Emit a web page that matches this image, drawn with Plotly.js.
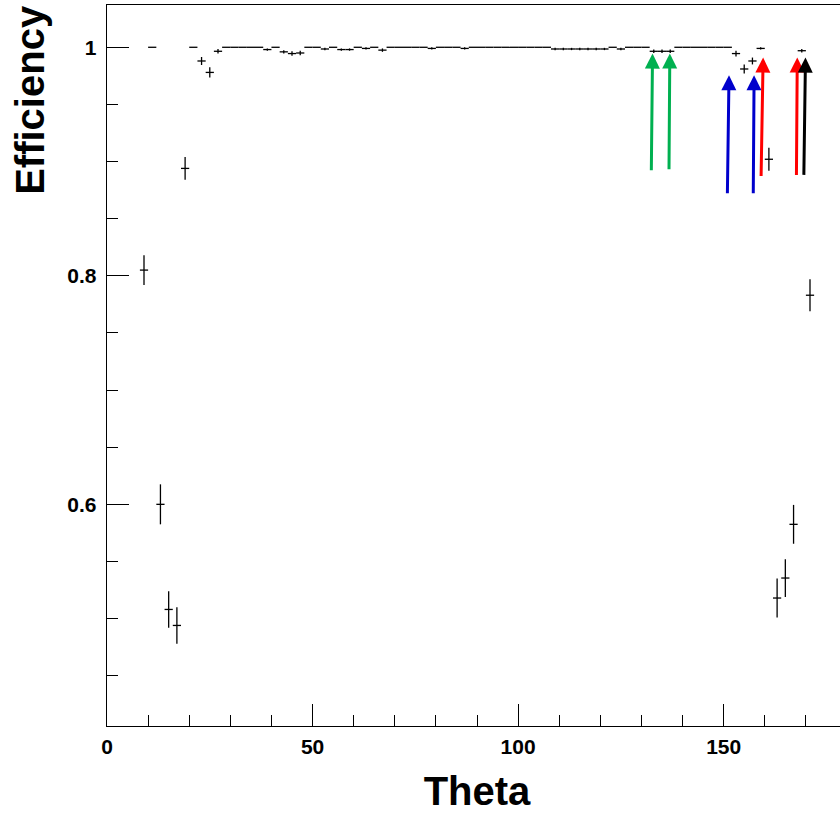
<!DOCTYPE html>
<html>
<head>
<meta charset="utf-8">
<script src="https://cdn.plot.ly/plotly-3.0.1.min.js"></script>
<style>
html, body { margin: 0; padding: 0; overflow: hidden; background: #fff; }
#chart { width: 850px; height: 813px; }
</style>
</head>
<body>
<div id="chart"></div>
<script>
// Bin centres (theta, degrees), bin half-width 1
var theta = [9, 11, 13, 15, 17, 19, 21, 23, 25, 27,
  29, 31, 33, 35, 37, 39, 41, 43, 45, 47,
  49, 51, 53, 55, 57, 59, 61, 63, 65, 67,
  69, 71, 73, 75, 77, 79, 81, 83, 85, 87,
  89, 91, 93, 95, 97, 99, 101, 103, 105, 107,
  109, 111, 113, 115, 117, 119, 121, 123, 125, 127,
  129, 131, 133, 135, 137, 139, 141, 143, 145, 147,
  149, 151, 153, 155, 157, 159, 161, 163, 165, 167,
  169, 171];
var efficiency = [0.805, 1.0, 0.600, 0.508, 0.494, 0.894, 1.0, 0.988, 0.978, 0.9965,
  1.0, 1.0, 1.0, 1.0, 1.0, 0.998, 1.0, 0.996, 0.9945, 0.995,
  1.0, 1.0, 0.9985, 1.0, 0.998, 0.998, 1.0, 0.999, 1.0, 0.9975,
  1.0, 1.0, 1.0, 1.0, 1.0, 0.999, 1.0, 1.0, 1.0, 0.999,
  1.0, 1.0, 1.0, 1.0, 1.0, 1.0, 1.0, 1.0, 1.0, 1.0,
  0.9985, 0.9985, 0.9985, 0.9985, 0.9985, 0.9985, 0.9985, 1.0, 0.9985, 1.0,
  1.0, 1.0, 0.9965, 0.9965, 0.9965, 1.0, 1.0, 1.0, 1.0, 1.0,
  1.0, 1.0, 0.9945, 0.981, 0.988, 0.999, 0.902, 0.518, 0.5355, 0.5825,
  0.997, 0.783];
var effError = [0.013, 0, 0.0175, 0.016, 0.016, 0.010, 0, 0.0035, 0.0045, 0.002,
  0, 0, 0, 0, 0, 0.001, 0, 0.0015, 0.002, 0.002,
  0, 0, 0.001, 0, 0.001, 0.001, 0, 0.001, 0, 0.0015,
  0, 0, 0, 0, 0, 0.001, 0, 0, 0, 0.001,
  0, 0, 0, 0, 0, 0, 0, 0, 0, 0,
  0.001, 0.001, 0.001, 0.001, 0.001, 0.001, 0.001, 0, 0.001, 0,
  0, 0, 0.0015, 0.0015, 0.0015, 0, 0, 0, 0, 0,
  0, 0, 0.0025, 0.004, 0.003, 0.001, 0.010, 0.017, 0.0165, 0.017,
  0.0015, 0.014];
var binHalfWidth = 1;

// Arrows: tail (x0,y0) -> tip (x1,y1)
var arrowX0 = [132.4, 136.7, 150.9, 157.2, 159.1, 167.7, 169.5];
var arrowY0 = [0.891, 0.892, 0.871, 0.871, 0.886, 0.887, 0.887];
var arrowX1 = [132.7, 136.9, 151.3, 157.4, 159.6, 167.9, 169.9];
var arrowY1 = [0.9945, 0.9945, 0.9755, 0.9755, 0.991, 0.991, 0.991];
var arrowColor = ['#00b050', '#00b050', '#0000cc', '#0000cc', '#ff0000', '#ff0000', '#000000'];

var FONT = 'Liberation Sans, Arial, Helvetica, sans-serif';

var trace = {
  type: 'scatter',
  mode: 'markers',
  x: theta,
  y: efficiency,
  marker: { size: 1, color: 'rgba(0,0,0,0)' },
  error_x: { type: 'constant', value: binHalfWidth, width: 0, thickness: 1.3, color: '#000' },
  error_y: { type: 'data', array: effError, width: 0, thickness: 1.3, color: '#000' },
  hoverinfo: 'x+y',
  showlegend: false
};

var annotations = [];
for (var i = 0; i < arrowX0.length; i++) {
  annotations.push({
    x: arrowX1[i], y: arrowY1[i], xref: 'x', yref: 'y',
    ax: arrowX0[i], ay: arrowY0[i], axref: 'x', ayref: 'y',
    text: '', showarrow: true, arrowhead: 2, arrowsize: 1, arrowwidth: 3,
    arrowcolor: arrowColor[i], standoff: 0, startstandoff: 0
  });
}
annotations.push({
  text: 'Efficiency', xref: 'paper', yref: 'paper',
  x: (30 - 107) / 740, y: 1.003, xanchor: 'center', yanchor: 'top',
  textangle: -90, showarrow: false,
  font: { family: FONT, size: 40, color: '#000', weight: 'bold' }
});

var layout = {
  width: 850, height: 813,
  margin: { l: 107, r: 3, t: 5, b: 87 },
  paper_bgcolor: '#fff', plot_bgcolor: '#fff',
  font: { family: FONT, color: '#000' },
  xaxis: {
    range: [0, 180], showgrid: false, zeroline: false,
    showline: true, linecolor: '#000', linewidth: 1.3, mirror: true,
    ticks: 'inside', ticklen: 22, tickwidth: 1, tickcolor: '#000',
    tick0: 0, dtick: 50,
    minor: { ticks: 'inside', ticklen: 11, tickwidth: 1, tickcolor: '#000', dtick: 10, showgrid: false },
    tickfont: { family: FONT, size: 21, weight: 'bold', color: '#000' },
    ticklabelstandoff: 1,
    title: { text: 'Theta', font: { family: FONT, size: 40, weight: 'bold', color: '#000' }, standoff: 24 }
  },
  yaxis: {
    range: [0.406, 1.037], showgrid: false, zeroline: false,
    showline: true, linecolor: '#000', linewidth: 1.3, mirror: true,
    ticks: 'inside', ticklen: 22, tickwidth: 1, tickcolor: '#000',
    tick0: 0.2, dtick: 0.2,
    minor: { ticks: 'inside', ticklen: 11, tickwidth: 1, tickcolor: '#000', dtick: 0.05, showgrid: false },
    tickfont: { family: FONT, size: 21, weight: 'bold', color: '#000' },
    ticklabelstandoff: 5
  },
  annotations: annotations
};

Plotly.newPlot('chart', [trace], layout, { displayModeBar: false, staticPlot: true });
</script>
</body>
</html>
